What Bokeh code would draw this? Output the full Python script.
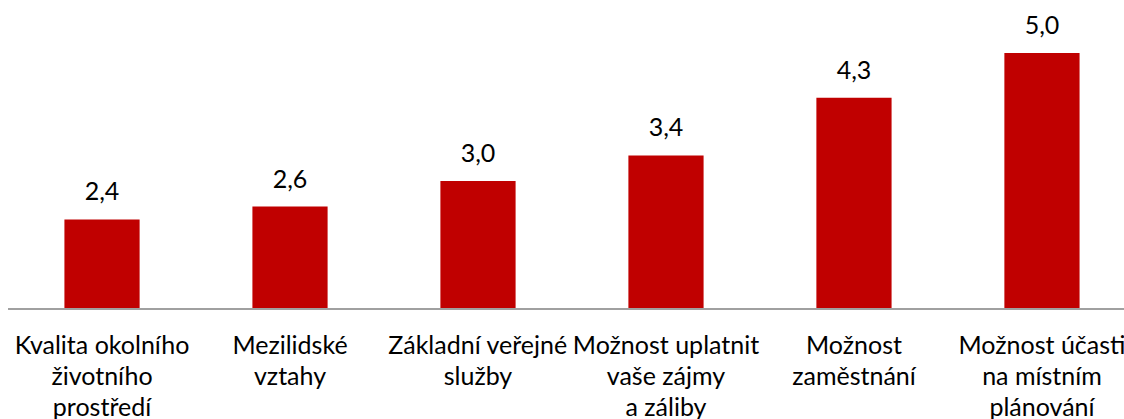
from bokeh.plotting import figure
from bokeh.models import Range1d, ColumnDataSource
from bokeh.core.properties import value
from bokeh.embed import file_html
from bokeh.resources import INLINE

categories = [
    "Kvalita okolního\nživotního\nprostředí",
    "Mezilidské\nvztahy",
    "Základní veřejné\nslužby",
    "Možnost uplatnit\nvaše zájmy\na záliby",
    "Možnost\nzaměstnání",
    "Možnost účasti\nna místním\nplánování",
]
values = [2.4, 2.6, 3.0, 3.4, 4.3, 5.0]
value_labels = ["2,4", "2,6", "3,0", "3,4", "4,3", "5,0"]

BASE = 1.0
FONT = "Lato"
FSIZE = "25px"

x = list(range(len(categories)))
src = ColumnDataSource(dict(x=x, top=values, lbl=value_labels,
                            base=[BASE] * len(x)))

# one row per line of each category label, so each line is centred
lx, ltxt, loff = [], [], []
for i, cat in enumerate(categories):
    for j, line in enumerate(cat.split("\n")):
        lx.append(i)
        ltxt.append(line)
        loff.append(35 + 31 * j)
lsrc = ColumnDataSource(dict(x=lx, y=[BASE] * len(lx), txt=ltxt, off=loff))

p = figure(width=1124, height=419, output_backend="svg", toolbar_location=None,
           x_range=Range1d(-0.540, 5.439), y_range=Range1d(-0.7266, 5.820),
           min_border=0, min_border_left=0, min_border_right=0,
           min_border_top=0, min_border_bottom=0)
p.axis.visible = False
p.grid.visible = False
p.outline_line_color = None
p.background_fill_color = "white"
p.border_fill_color = "white"

p.vbar(x="x", top="top", bottom="base", width=0.4, source=src,
       fill_color="#C00000", line_color=None)

# category axis line spanning the category bands
p.segment(x0=[-0.5], y0=[BASE], x1=[len(categories) - 0.5], y1=[BASE],
          line_color="#A0A0A0", line_width=2)

p.text(x="x", y="top", text="lbl", source=src, text_font=value(FONT),
       text_font_size=FSIZE, text_align="center", text_baseline="alphabetic",
       y_offset=-28, text_color="#000000")

p.text(x="x", y="y", text="txt", source=lsrc, text_font=value(FONT),
       text_font_size=FSIZE, text_align="center", text_baseline="alphabetic",
       y_offset="off", text_color="#000000")

open("out.html", "w").write(file_html(p, INLINE))
